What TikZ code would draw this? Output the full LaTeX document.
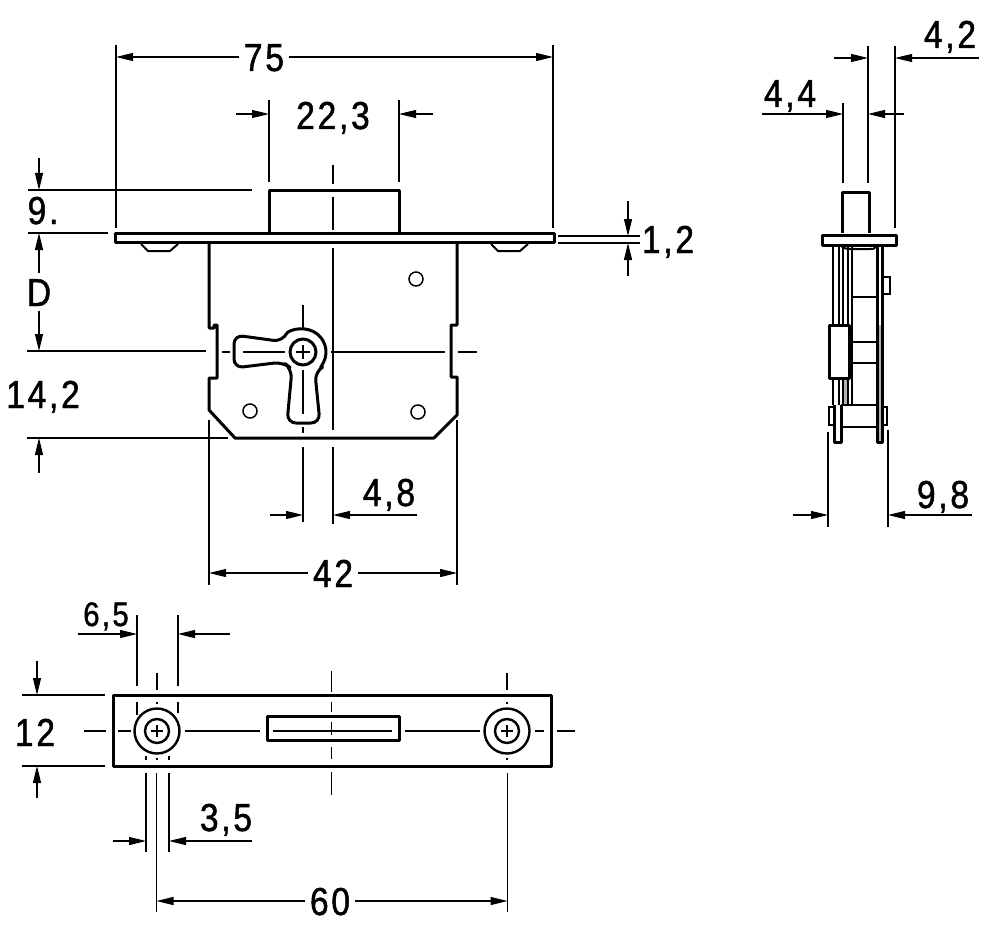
\documentclass[tikz,border=0pt]{standalone}
\usepackage{fontspec}
\setmainfont[LetterSpace=7,FakeBold=1.2,FakeStretch=0.86]{Liberation Sans}
\usetikzlibrary{arrows.meta}

\tikzset{
  outline/.style={line width=3pt, line join=round},
  thinpart/.style={line width=2pt},
  extline/.style={line width=1.2pt},
  centerline/.style={line width=1.2pt},
  dimarrow/.style={line width=1.2pt, -{Triangle[length=17pt,width=8pt]}},
  dimlabel/.style={font=\fontsize{39}{39}\selectfont, inner sep=5pt, text height=28pt, text depth=0pt},
  smalllabel/.style={font=\fontsize{34}{34}\selectfont, inner sep=3pt, text height=28pt, text depth=0pt},
  holecircle/.style={circle, draw, line width=1.5pt, minimum size=14pt, inner sep=0pt}
}

\begin{document}
\begin{tikzpicture}[x=1pt, y=-1pt]
  \useasboundingbox (0,0) rectangle (1000,936);
  \fill[white] (0,0) rectangle (1000,936);

  % Front view: bolt, plate, feet
  \draw[outline] (269,233) -- (269,190) -- (399,190) -- (399,233);
  \draw[outline] (115.5,233.5) rectangle (554,242.5);
  \draw[thinpart] (141,244) -- (148,251) -- (170,251) -- (178,244);
  \draw[thinpart] (491,244) -- (498,251) -- (520,251) -- (528,244);

  % Front view: case
  \draw[outline] (209,243) -- (209,328) -- (214,328) -- (214,325) -- (217,325) -- (217,378) -- (209,378) -- (209,410)
    -- (235,438) -- (434,438) -- (457,415) -- (457,377) -- (451,377) -- (451,325)
    -- (457,325) -- (457,243);
  \node[holecircle] (holeTop) at (416,279) {};
  \node[holecircle] (holeLeft) at (250,411) {};
  \node[holecircle] (holeRight) at (418,412) {};

  % Keyhole
  \draw[outline, rounded corners=9pt] (282.5,341.6) arc[start angle=207, end angle=419, radius=23]
    -- (320,423) -- (287,423) -- (292,369) -- (283,362) -- (234,368) -- (234,335) -- cycle;
  \draw[outline] (303,352) circle[radius=13];
  \draw[extline] (296,352) -- (310,352) (303,345) -- (303,359);

  % Front view: center lines
  \draw[centerline] (333,165) -- (333,184) (333,197) -- (333,230) (333,248) -- (333,430) (333,447) -- (333,524);
  \draw[centerline] (303,305) -- (303,330) (303,370) -- (303,414) (303,427) -- (303,433);
  \draw[centerline] (222,352) -- (230,352) (243,352) -- (285,352) (331,352) -- (445,352) (458,352) -- (477,352);

  % Side view
  \fill[gray!60] (877,325) rectangle (882,442) (843,378) rectangle (848,405);
  \draw[outline] (842,233) -- (842,192) -- (869,192) -- (869,233);
  \draw[outline] (822.5,235) rectangle (896,245);
  \draw[thinpart] (833,245) -- (833,325) (839,245) -- (839,325) (843,247) -- (843,325)
    (848,247) -- (848,325) (852,247) -- (852,405);
  \draw[outline] (877,245) -- (877,442) -- (882,442) -- (882,245);
  \draw[thinpart] (841,246) .. controls (846,249) .. (850,249) -- (870,249) .. controls (874,249) .. (876,246);
  \draw[line width=1.5pt] (883,277) -- (890,277) -- (890,294) -- (883,294);
  \draw[outline] (829,325) rectangle (849,378);
  \draw[thinpart] (833,378) -- (833,405) (839,378) -- (839,405) (843,378) -- (843,405) (848,378) -- (848,405);
  \draw[thinpart] (852,297) -- (877,297) (852,342) -- (877,342) (852,363) -- (877,363);
  \draw[outline] (834,405) -- (834,442) -- (841,442) -- (841,405);
  \draw[thinpart] (841,405) -- (877,405) (841,427) -- (877,427);
  \draw[line width=1.5pt] (834,407) -- (829,407) -- (829,425) -- (834,425);
  \draw[line width=1.5pt] (882,407) -- (887,407) -- (887,425) -- (882,425);

  % Bottom view
  \draw[outline] (113,695) rectangle (551,766);
  \draw[outline] (267,716) rectangle (399,740);
  \foreach \cx/\name in {157/screwLeft, 507/screwRight} {
    \node[circle, draw, line width=2.4pt, minimum size=45pt, inner sep=0pt] (\name) at (\cx,731) {};
    \node[circle, draw, line width=2.4pt, minimum size=24pt, inner sep=0pt] at (\cx,731) {};
    \draw[extline] (\cx-6,731) -- (\cx+6,731) (\cx,725) -- (\cx,737);
    \draw[centerline] (\cx,673) -- (\cx,690) (\cx,702) -- (\cx,704) (\cx,758) -- (\cx,760);
  }
  \draw[centerline] (84,731) -- (106,731) (118,731) -- (131,731) (185,731) -- (260,731)
    (273,731) -- (392,731) (405,731) -- (480,731) (535,731) -- (544,731) (557,731) -- (575,731);
  \draw[centerline] (331.5,671) -- (331.5,692) (331.5,702) -- (331.5,712) (331.5,722) -- (331.5,735)
    (331.5,747) -- (331.5,759) (331.5,772) -- (331.5,795);

  % Extension lines
  \draw[extline] (116,45) -- (116,228) (553,45) -- (553,228);
  \draw[extline] (269,100) -- (269,182) (399,100) -- (399,182);
  \draw[extline] (28,190) -- (252,190) (28,233) -- (108,233) (27,351) -- (206,351) (27,438) -- (228,438);
  \draw[extline] (558,236) -- (640,236) (558,243) -- (640,243);
  \draw[extline] (209,420) -- (209,585) (457,420) -- (457,585) (303,447) -- (303,522);
  \draw[extline] (843,103) -- (843,183) (868,46) -- (868,183) (895,46) -- (895,228);
  \draw[extline] (828,432) -- (828,527) (888,430) -- (888,527);
  \draw[extline] (137,615) -- (137,686) (137,702) -- (137,715) (178,615) -- (178,686) (178,702) -- (178,713);
  \draw[extline] (22,695) -- (105,695) (22,766) -- (105,766);
  \draw[extline] (146,756) -- (146,760) (169,756) -- (169,760) (146,773) -- (146,852) (169,773) -- (169,852);
  \draw[extline] (156.5,773) -- (156.5,912) (507.5,773) -- (507.5,912);

  % Dimension labels
  \node[dimlabel] (dimWidth) at (264,57) {75};
  \node[dimlabel] (dimBolt) at (333,115) {22,3};
  \node[dimlabel] (dimThrow) at (43,210) {9.};
  \node[dimlabel] (dimBackset) at (39,292) {D};
  \node[dimlabel] (dimCenter) at (43,394) {14,2};
  \node[dimlabel] (dimPlate) at (668,239) {1,2};
  \node[dimlabel] (dimKey) at (389,492) {4,8};
  \node[dimlabel] (dimCase) at (333,573) {42};
  \node[dimlabel] (dimSideA) at (950,34) {4,2};
  \node[dimlabel] (dimSideB) at (790,93) {4,4};
  \node[dimlabel] (dimSideC) at (943,494) {9,8};
  \node[smalllabel] (dimCollar) at (106,612) {6,5};
  \node[dimlabel] (dimHeight) at (35,732) {12};
  \node[dimlabel] (dimScrew) at (226,817) {3,5};
  \node[dimlabel] (dimPitch) at (330,901) {60};

  % Dimension arrows
  \draw[dimarrow] (dimWidth) -- (116,57);
  \draw[dimarrow] (dimWidth) -- (553,57);
  \draw[dimarrow] (236,114) -- (269,114);
  \draw[dimarrow] (433,114) -- (399,114);
  \draw[dimarrow] (39,158) -- (39,190);
  \draw[dimarrow] (dimBackset) -- (39,233);
  \draw[dimarrow] (dimBackset) -- (39,351);
  \draw[dimarrow] (39,473) -- (39,438);
  \draw[dimarrow] (628,201) -- (628,236);
  \draw[dimarrow] (628,276) -- (628,243);
  \draw[dimarrow] (270,515) -- (303,515);
  \draw[dimarrow] (417,515) -- (333,515);
  \draw[dimarrow] (dimCase) -- (209,573);
  \draw[dimarrow] (dimCase) -- (457,573);
  \draw[dimarrow] (834,58) -- (868,58);
  \draw[dimarrow] (979,58) -- (895,58);
  \draw[dimarrow] (762,114) -- (843,114);
  \draw[dimarrow] (904,114) -- (868,114);
  \draw[dimarrow] (793,515) -- (828,515);
  \draw[dimarrow] (972,515) -- (888,515);
  \draw[dimarrow] (78,634) -- (137,634);
  \draw[dimarrow] (230,634) -- (178,634);
  \draw[dimarrow] (37,661) -- (37,695);
  \draw[dimarrow] (37,798) -- (37,766);
  \draw[dimarrow] (113,841) -- (146,841);
  \draw[dimarrow] (252,841) -- (169,841);
  \draw[dimarrow] (dimPitch) -- (156.5,901);
  \draw[dimarrow] (dimPitch) -- (507.5,901);
\end{tikzpicture}
\end{document}
